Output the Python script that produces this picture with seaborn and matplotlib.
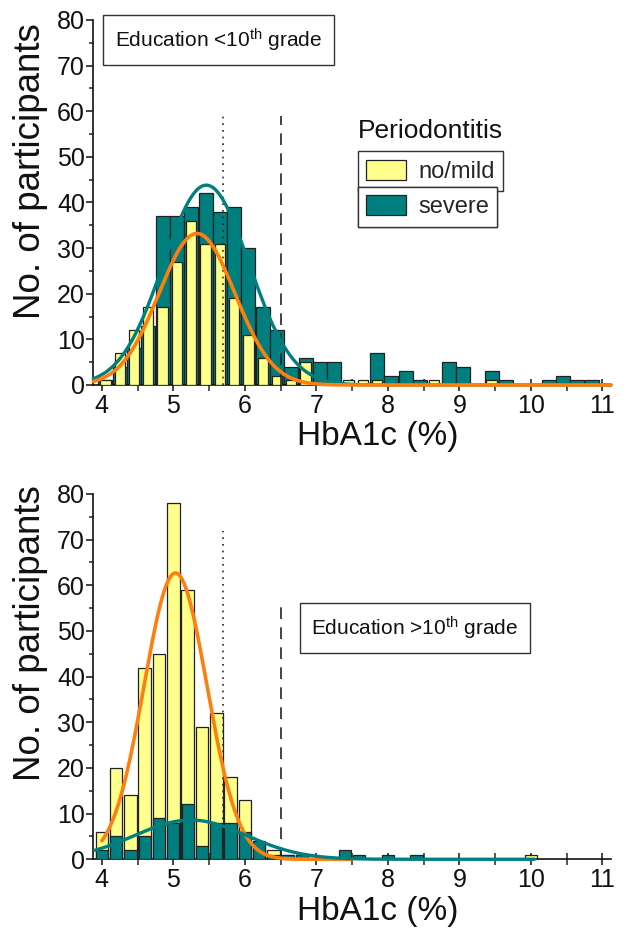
import numpy as np
import pandas as pd
import matplotlib
matplotlib.use("Agg")
import matplotlib.pyplot as plt
from matplotlib.patches import Patch
from matplotlib.ticker import MultipleLocator
import seaborn as sns

# ---------------- data ----------------
# Panel A: Education <10th grade, bins of width 0.2 centred at 4.05, 4.25, ...
top_centers = [4.05, 4.25, 4.45, 4.65, 4.85, 5.05, 5.25, 5.45, 5.65, 5.85,
               6.05, 6.25, 6.45, 6.65, 6.85, 7.05, 7.25, 7.45, 7.65, 7.85,
               8.05, 8.25, 8.45, 8.65, 8.85, 9.05, 9.25, 9.45, 9.65, 9.85,
               10.05, 10.25, 10.45, 10.65, 10.85]
top_severe = [1, 4, 8, 13, 37, 37, 39, 42, 38, 39,
              30, 17, 12, 4, 6, 5, 5, 0, 0, 7,
              2, 3, 1, 0, 5, 4, 0, 3, 1, 0,
              0, 1, 2, 1, 1]
top_mild = [1, 7, 12, 17, 17, 27, 36, 31, 31, 19,
            11, 6, 2, 1, 5, 0, 0, 1, 1, 1,
            0, 0, 0, 1, 0, 0, 0, 1, 0, 0,
            0, 0, 0, 0, 0]

# Panel B: Education >10th grade, bins of width 0.2 centred at 4.0, 4.2, ...
bot_centers = [4.0, 4.2, 4.4, 4.6, 4.8, 5.0, 5.2, 5.4, 5.6, 5.8,
               6.0, 6.2, 6.4, 6.6, 6.8, 7.0, 7.2, 7.4, 7.6, 7.8,
               8.0, 8.2, 8.4, 8.6, 8.8, 9.0, 9.2, 9.4, 9.6, 9.8, 10.0]
bot_mild = [6, 20, 14, 42, 45, 78, 59, 29, 32, 18,
            13, 3, 2, 1, 1, 0, 0, 0, 0, 0,
            0, 0, 0, 0, 0, 0, 0, 0, 0, 0, 1]
bot_severe = [2, 5, 2, 5, 9, 8, 12, 3, 8, 8,
              6, 4, 1, 1, 1, 0, 0, 2, 1, 0,
              1, 0, 1, 0, 0, 0, 0, 0, 0, 0, 0]

# Gaussian fit parameters (peak, mean, sd)
top_fit_mild = (33.2, 5.33, 0.53)
top_fit_severe = (43.8, 5.46, 0.60)
bot_fit_mild = (62.7, 5.03, 0.44)
bot_fit_severe = (8.6, 5.24, 0.78)

thresholds = [5.7, 6.5]
x_ticks = [4, 5, 6, 7, 8, 9, 10, 11]
group_labels = ["no/mild", "severe"]
legend_title = "Periodontitis"
panel_titles = ["Education <10$^{\\rm th}$ grade", "Education >10$^{\\rm th}$ grade"]

# ---------------- style ----------------
sns.set_theme(style="ticks")
plt.rcParams["font.family"] = ["Liberation Sans", "DejaVu Sans"]
plt.rcParams["mathtext.fontset"] = "custom"
plt.rcParams["mathtext.rm"] = "Liberation Sans"
plt.rcParams["mathtext.it"] = "Liberation Sans:italic"

YELLOW = "#FFFF8C"
TEAL = "#007F7F"
ORANGE = "#FF7F0E"
EDGE = "#222222"

fig = plt.figure(figsize=(6.24, 9.34), dpi=100)
ax1 = fig.add_axes([0.1495, 0.5878, 0.8296, 0.3908])
ax2 = fig.add_axes([0.1495, 0.0800, 0.8296, 0.3911])


def hist(ax, centers, counts, color, shrink, z):
    df = pd.DataFrame({"hba1c": centers, "n": counts})
    lo = min(centers) - 0.1
    hi = max(centers) + 0.1
    sns.histplot(data=df, x="hba1c", weights="n", binwidth=0.2, binrange=(lo, hi),
                 ax=ax, color=color, alpha=1, edgecolor=EDGE, linewidth=0.9,
                 shrink=shrink, zorder=z)


def gauss_curve(ax, params, x0, x1, color, lw, z):
    a, m, s = params
    xs = np.linspace(x0, x1, 400)
    ys = a * np.exp(-((xs - m) ** 2) / (2 * s ** 2))
    sns.lineplot(x=xs, y=ys, ax=ax, color=color, lw=lw, zorder=z, clip_on=False)


# ---- top panel ----
hist(ax1, top_centers, top_severe, TEAL, 0.98, 2)
hist(ax1, top_centers, top_mild, YELLOW, 0.72, 3)
for t, ls in zip(thresholds, [(0, (1, 3)), (0, (7, 5))]):
    ax1.plot([t, t], [0, 59], color="#222222", lw=1.2, ls=ls, zorder=4)
gauss_curve(ax1, top_fit_severe, 3.88, 11.12, TEAL, 2.4, 5)
gauss_curve(ax1, top_fit_mild, 3.88, 11.12, ORANGE, 2.6, 6)

# ---- bottom panel ----
hist(ax2, bot_centers, bot_mild, YELLOW, 0.88, 2)
hist(ax2, bot_centers, bot_severe, TEAL, 0.85, 3)
ax2.plot([thresholds[0]] * 2, [0, 72], color="#222222", lw=1.2, ls=(0, (1, 3)), zorder=4)
ax2.plot([thresholds[1]] * 2, [0, 55.5], color="#222222", lw=1.2, ls=(0, (7, 5)), zorder=4)
gauss_curve(ax2, bot_fit_mild, 4.0, 7.5, ORANGE, 2.6, 5)
gauss_curve(ax2, bot_fit_severe, 3.9, 10.05, TEAL, 2.4, 6)

for ax in (ax1, ax2):
    ax.set_xlim(3.88, 11.12)
    ax.set_ylim(0, 80)
    ax.set_xticks(x_ticks)
    ax.set_xticklabels([str(v) for v in x_ticks])
    ax.xaxis.set_minor_locator(MultipleLocator(0.5))
    ax.set_yticks(range(0, 81, 10))
    ax.yaxis.set_minor_locator(MultipleLocator(5))
    ax.tick_params(axis="x", which="major", direction="inout", length=9, width=1.1,
                   labelsize=18, pad=2, colors="#111111")
    ax.tick_params(axis="x", which="minor", direction="inout", length=9, width=1.1)
    ax.tick_params(axis="y", which="major", direction="out", length=5, width=1.1,
                   labelsize=18, pad=1, colors="#111111")
    ax.tick_params(axis="y", which="minor", direction="out", length=3, width=1.1)
    for s in ["top", "right"]:
        ax.spines[s].set_visible(False)
    for s in ["left", "bottom"]:
        ax.spines[s].set_linewidth(1.2)
        ax.spines[s].set_color("#111111")
    ax.set_xlabel("HbA1c (%)", fontsize=24, color="#111111")
    ax.set_ylabel("No. of participants", fontsize=26.5, color="#111111")
    ax.set_facecolor("white")

ax1.xaxis.set_label_coords(0.55, -0.10)
ax2.xaxis.set_label_coords(0.55, -0.10)
ax1.yaxis.set_label_coords(-0.088, 0.585)
ax2.yaxis.set_label_coords(-0.088, 0.62)

# panel title boxes
ax1.text(0.242, 0.944, panel_titles[0], transform=ax1.transAxes, fontsize=15,
         ha="center", va="center", color="#111111",
         bbox=dict(boxstyle="square,pad=0.55", fc="white", ec="#333333", lw=1.0))
ax2.text(0.621, 0.633, panel_titles[1], transform=ax2.transAxes, fontsize=15,
         ha="center", va="center", color="#111111",
         bbox=dict(boxstyle="square,pad=0.55", fc="white", ec="#333333", lw=1.0))

# legend
ax1.text(0.511, 0.664, legend_title, transform=ax1.transAxes, fontsize=19,
         ha="left", va="bottom", color="#111111")
for lab, col, ytop in zip(group_labels, [YELLOW, TEAL], [0.640, 0.543]):
    leg = ax1.legend(handles=[Patch(facecolor=col, edgecolor=EDGE, lw=0.9)],
                     labels=[lab], loc="upper left", bbox_to_anchor=(0.511, ytop),
                     fontsize=17, frameon=True, fancybox=False, framealpha=1,
                     edgecolor="#333333", borderpad=0.35, handlelength=1.7,
                     handleheight=0.95, handletextpad=0.5, borderaxespad=0)
    leg.get_frame().set_linewidth(1.0)
    ax1.add_artist(leg)

fig.savefig("out.png", dpi=100, facecolor="white")
